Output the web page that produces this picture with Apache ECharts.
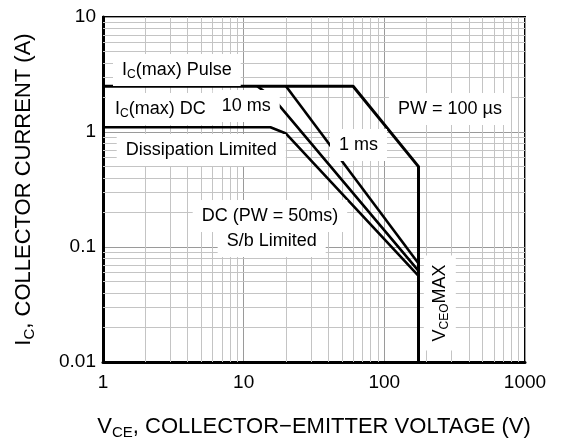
<!DOCTYPE html>
<html><head><meta charset="utf-8">
<script src="https://cdn.jsdelivr.net/npm/echarts@6/dist/echarts.min.js"></script>
<style>html,body{margin:0;padding:0;background:#fff}#c{width:561px;height:440px}</style>
</head><body><div id="c"></div>
<script>
// ---- data ----
const xTicks = [1, 10, 100, 1000];
const yTicks = [0.01, 0.1, 1, 10];
const xMinorGrid = [2,3,4,5,6,7,8,9,20,30,40,50,60,70,80,90,200,300,400,500,600,700,800,900];
const yMinorGrid = [0.02,0.03,0.04,0.05,0.06,0.07,0.08,0.09,0.2,0.3,0.4,0.5,0.6,0.7,0.8,0.9,2,3,4,5,6,7,8,9];
// PW = 100 us (pulse limit + VCEO max)
const pulseV = [1, 60, 175, 175];
const pulseI = [2.5, 2.5, 0.5, 0.01];
// 1 ms
const ms1V = [20, 175];
const ms1I = [2.5, 0.072];
// 10 ms
const ms10V = [12.5, 16, 175];
const ms10I = [2.5, 2.0, 0.062];
// DC
const dcV = [1, 15.5, 20, 175];
const dcI = [1.1, 1.1, 0.97, 0.056];

const F = '"Liberation Sans", Arial, Helvetica, sans-serif';
const richBase = {
  a: {fontFamily: F, fontSize: 18, color: '#000', lineHeight: 22},
  s: {fontFamily: F, fontSize: 12, color: '#000', lineHeight: 22, verticalAlign: 'bottom'}
};
const richTitle = {
  a: {fontFamily: F, fontSize: 22, color: '#000', lineHeight: 26},
  s: {fontFamily: F, fontSize: 15, color: '#000', lineHeight: 26, verticalAlign: 'bottom'}
};
const annotations = [
  {text: '{a|I}{s|C}{a|(max) Pulse}', at: [1.365, 3.46]},
  {text: '{a|I}{s|C}{a|(max) DC}', at: [1.217, 1.585]},
  {text: '{a|10 ms}', at: [6.98, 1.683]},
  {text: '{a|Dissipation Limited}', at: [1.45, 0.697]},
  {text: '{a|PW = 100 \u00b5s}', at: [125, 1.585]},
  {text: '{a|1 ms}', at: [47.6, 0.771]},
  {text: '{a|DC (PW = 50ms)}', at: [5.03, 0.186]},
  {text: '{a|S/b Limited}', at: [7.57, 0.1128]},
  {text: '{a|V}{s|CEO}{a|MAX}', at: [248, 0.0326], rotate: true}
];

const chart = echarts.init(document.getElementById('c'));
const pairs = (xs, ys) => xs.map((x, i) => [x, ys[i]]);
const curve = (name, xs, ys, w) => ({
  type: 'line', name, data: pairs(xs, ys), symbol: 'none', z: 5, silent: true,
  lineStyle: {color: '#000', width: w}
});
const fmt = ticks => v => {
  const t = ticks.find(t => Math.abs(Math.log10(t) - Math.log10(v)) < 1e-6);
  return t === undefined ? '' : String(t);
};

chart.setOption({
  animation: false,
  grid: {left: 103, top: 17, right: 36, bottom: 78, show: true, borderColor: '#000', borderWidth: 2,
         containLabel: false, outerBoundsMode: 'none'},
  xAxis: {
    type: 'log', logBase: 10, min: 1, max: 1000,
    axisLine: {show: true, onZero: false, lineStyle: {color: '#000', width: 3}},
    axisTick: {show: false},
    splitLine: {show: true, lineStyle: {color: '#9a9a9a', width: 1}},
    axisLabel: {fontFamily: F, fontSize: 19, color: '#000', margin: 11, formatter: fmt(xTicks)},
    name: '{a|V}{s|CE}{a|, COLLECTOR\u2212EMITTER VOLTAGE (V)}',
    nameLocation: 'middle', nameGap: 52,
    nameTextStyle: {rich: richTitle}
  },
  yAxis: {
    type: 'log', logBase: 10, min: 0.01, max: 10,
    axisLine: {show: true, onZero: false, lineStyle: {color: '#000', width: 3}},
    axisTick: {show: false},
    splitLine: {show: true, lineStyle: {color: '#9a9a9a', width: 1}},
    axisLabel: {fontFamily: F, fontSize: 19, color: '#000', margin: 7, formatter: fmt(yTicks)},
    name: '{a|I}{s|C}{a|, COLLECTOR CURRENT (A)}',
    nameLocation: 'middle', nameGap: 66,
    nameTextStyle: {rich: richTitle}
  },
  series: [
    {
      type: 'line', name: 'minorGrid', data: [], z: 1, silent: true,
      markLine: {
        silent: true, symbol: ['none', 'none'], label: {show: false},
        lineStyle: {color: '#c4c4c4', width: 1, type: 'solid'},
        emphasis: {disabled: true},
        data: xMinorGrid.map(v => ({xAxis: v})).concat(yMinorGrid.map(v => ({yAxis: v})))
      }
    },
    curve('PW = 100 us', pulseV, pulseI, 3),
    curve('1 ms', ms1V, ms1I, 2.6),
    curve('10 ms', ms10V, ms10I, 2.6),
    curve('DC', dcV, dcI, 2.6)
  ]
});

const graphics = annotations.map(an => {
  const p = chart.convertToPixel({gridIndex: 0}, an.at);
  if (an.rotate) {
    return {
      type: 'text', x: p[0], y: p[1], rotation: Math.PI / 2, z: 100,
      style: {text: an.text, rich: richBase, align: 'center', verticalAlign: 'middle',
              backgroundColor: '#fff', padding: [5, 9]}
    };
  }
  return {
    type: 'text', x: p[0] - 9, y: p[1], z: 100,
    style: {text: an.text, rich: richBase, align: 'left', verticalAlign: 'middle',
            backgroundColor: '#fff', padding: [5, 9]}
  };
});
chart.setOption({graphic: graphics});
</script>
</body></html>
